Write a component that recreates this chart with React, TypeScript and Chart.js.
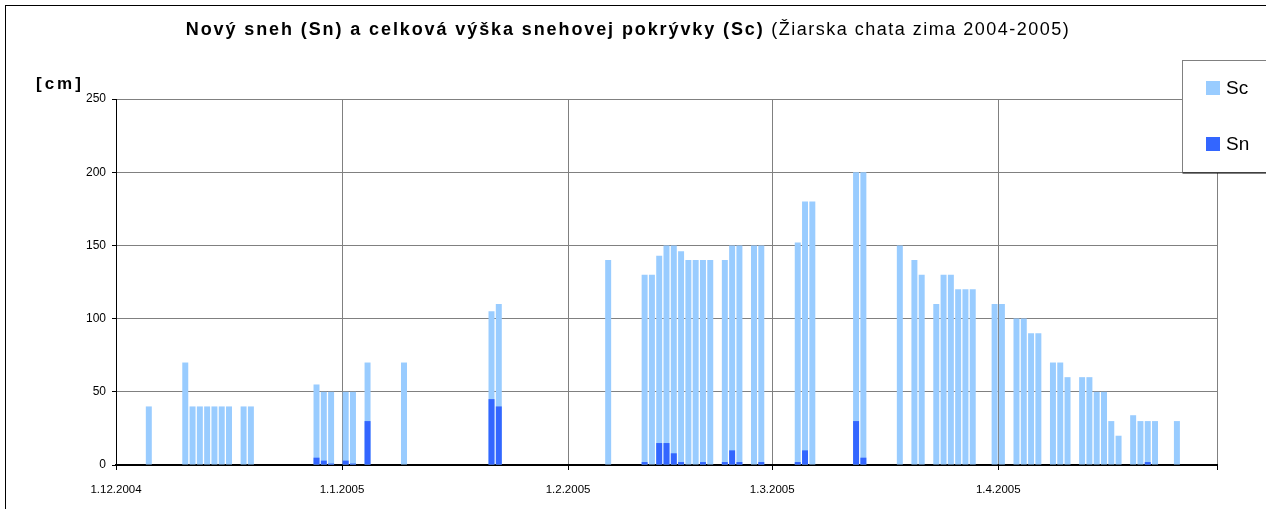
import React, { useEffect, useRef } from 'react';
import { Chart, registerables } from 'chart.js';

Chart.register(...registerables);

// ---- Data ----
const monthTickDates = ['2004-12-01', '2005-01-01', '2005-02-01', '2005-03-01', '2005-04-01', '2005-05-01'];
const monthTickLabels = ['1.12.2004', '1.1.2005', '1.2.2005', '1.3.2005', '1.4.2005', ''];

const dates = [
  '2004-12-05', '2004-12-10', '2004-12-11', '2004-12-12', '2004-12-13', '2004-12-14', '2004-12-15', '2004-12-16',
  '2004-12-18', '2004-12-19', '2004-12-28', '2004-12-29', '2004-12-30', '2005-01-01', '2005-01-02', '2005-01-04',
  '2005-01-09', '2005-01-21', '2005-01-22', '2005-02-06', '2005-02-11', '2005-02-12', '2005-02-13', '2005-02-14',
  '2005-02-15', '2005-02-16', '2005-02-17', '2005-02-18', '2005-02-19', '2005-02-20', '2005-02-22', '2005-02-23',
  '2005-02-24', '2005-02-26', '2005-02-27', '2005-03-04', '2005-03-05', '2005-03-06', '2005-03-12', '2005-03-13',
  '2005-03-18', '2005-03-20', '2005-03-21', '2005-03-23', '2005-03-24', '2005-03-25', '2005-03-26', '2005-03-27',
  '2005-03-28', '2005-03-31', '2005-04-01', '2005-04-03', '2005-04-04', '2005-04-05', '2005-04-06', '2005-04-08',
  '2005-04-09', '2005-04-10', '2005-04-12', '2005-04-13', '2005-04-14', '2005-04-15', '2005-04-16', '2005-04-17',
  '2005-04-19', '2005-04-20', '2005-04-21', '2005-04-22', '2005-04-25',
];

const scValues = [
  40, 70, 40, 40, 40, 40, 40, 40,
  40, 40, 55, 50, 50, 50, 50, 70,
  70, 105, 110, 140, 130, 130, 143, 150,
  150, 146, 140, 140, 140, 140, 140, 150,
  150, 150, 150, 152, 180, 180, 200, 200,
  150, 140, 130, 110, 130, 130, 120, 120,
  120, 110, 110, 100, 100, 90, 90, 70,
  70, 60, 60, 60, 50, 50, 30, 20,
  34, 30, 30, 30, 30,
];

const snValues = [
  0, 0, 0, 0, 0, 0, 0, 0,
  0, 0, 5, 3, 1, 3, 1, 30,
  0, 45, 40, 0, 2, 0, 15, 15,
  8, 2, 0, 0, 2, 0, 2, 10,
  2, 0, 2, 2, 10, 0, 30, 5,
  0, 0, 0, 0, 0, 0, 0, 0,
  0, 0, 0, 0, 0, 0, 0, 0,
  0, 0, 0, 0, 0, 0, 0, 0,
  0, 0, 2, 0, 0,
];

const titleBold = 'Nový sneh (Sn) a celková výška snehovej pokrývky (Sc)';
const titleNormal = ' (Žiarska chata zima 2004-2005)';
const unitLabel = '[cm]';

const SC_COLOR = '#99CCFF';
const SN_COLOR = '#3366FF';
const FONT = '"Liberation Sans", Arial, sans-serif';

const START = Date.UTC(2004, 11, 1);
function dayIndex(s: string): number {
  const [y, m, d] = s.split('-').map(Number);
  return Math.round((Date.UTC(y, m - 1, d) - START) / 86400000);
}

const decorPlugin = {
  id: 'decor',
  afterDraw(chart: any) {
    const ctx = chart.ctx as CanvasRenderingContext2D;
    ctx.save();
    // outer frame
    ctx.strokeStyle = '#000';
    ctx.lineWidth = 1;
    ctx.strokeRect(5.5, 5.5, 1400, 700);

    // title (bold + normal parts)
    ctx.fillStyle = '#000';
    ctx.textBaseline = 'middle';
    ctx.textAlign = 'left';
    const c: any = ctx;
    const bFont = `bold 18px ${FONT}`;
    const nFont = `18px ${FONT}`;
    const bSp = '1.9px';
    const nSp = '1.5px';
    ctx.font = bFont;
    c.letterSpacing = bSp;
    const wb = ctx.measureText(titleBold).width;
    ctx.font = nFont;
    c.letterSpacing = nSp;
    const wn = ctx.measureText(titleNormal).width;
    const x0 = 628 - (wb + wn) / 2;
    ctx.font = bFont;
    c.letterSpacing = bSp;
    ctx.fillText(titleBold, x0, 30);
    ctx.font = nFont;
    c.letterSpacing = nSp;
    ctx.fillText(titleNormal, x0 + wb, 30);

    // unit label
    ctx.font = `bold 17px ${FONT}`;
    c.letterSpacing = '3px';
    ctx.fillText(unitLabel, 36, 84);
    c.letterSpacing = '0px';

    // legend box
    const lx = 1182.5, ly = 60.5, lw = 200, lh = 112;
    ctx.fillStyle = '#fff';
    ctx.fillRect(lx, ly, lw, lh);
    ctx.strokeStyle = '#808080';
    ctx.lineWidth = 1;
    ctx.strokeRect(lx, ly, lw, lh);
    ctx.strokeStyle = '#000';
    ctx.beginPath();
    ctx.moveTo(lx, ly + lh + 0.5);
    ctx.lineTo(lx + lw, ly + lh + 0.5);
    ctx.stroke();

    const items = chart.data.datasets.map((ds: any) => ({ label: ds.label, color: ds.backgroundColor }));
    const rowY = [88, 144];
    ctx.font = `19px ${FONT}`;
    ctx.textBaseline = 'middle';
    items.forEach((it: any, i: number) => {
      ctx.fillStyle = it.color;
      ctx.fillRect(1206, rowY[i] - 7, 14, 14);
      ctx.fillStyle = '#000';
      ctx.fillText(it.label, 1226, rowY[i] + 1);
    });
    ctx.restore();
  },
};

export default function App() {
  const canvasRef = useRef<HTMLCanvasElement | null>(null);

  useEffect(() => {
    document.body.style.margin = '0';
    const canvas = canvasRef.current;
    if (!canvas) return;
    const tickVals = monthTickDates.map(dayIndex);
    const chart = new Chart(canvas, {
      type: 'bar',
      data: {
        datasets: [
          {
            label: 'Sc',
            data: dates.map((d, i) => ({ x: dayIndex(d) + 0.5, y: scValues[i] })),
            backgroundColor: SC_COLOR,
            grouped: false,
            order: 1,
            barPercentage: 0.82,
            categoryPercentage: 1,
          } as any,
          {
            label: 'Sn',
            data: dates.map((d, i) => ({ x: dayIndex(d) + 0.5, y: snValues[i] })),
            backgroundColor: SN_COLOR,
            grouped: false,
            order: 0,
            barPercentage: 0.82,
            categoryPercentage: 1,
          } as any,
        ],
      },
      options: {
        animation: false,
        responsive: false,
        devicePixelRatio: 1,
        layout: { padding: { top: 99, left: 56, right: 49, bottom: 14 } },
        plugins: {
          legend: { display: false },
          title: { display: false },
          tooltip: { enabled: false },
        },
        scales: {
          x: {
            type: 'linear',
            min: tickVals[0],
            max: tickVals[tickVals.length - 1],
            offset: false,
            grid: {
              offset: false,
              color: '#808080',
              tickColor: '#000',
              tickLength: 5,
              lineWidth: 1,
            },
            border: { color: '#000', width: 2 },
            ticks: {
              autoSkip: false,
              maxRotation: 0,
              padding: 13,
              color: '#000',
              font: { family: FONT, size: 11.5 },
              callback: (v: any) => {
                const k = tickVals.indexOf(Math.round(Number(v)));
                return k >= 0 ? monthTickLabels[k] : '';
              },
            },
            afterBuildTicks: (scale: any) => {
              scale.ticks = tickVals.map((v) => ({ value: v }));
            },
            afterFit: (scale: any) => {
              scale.height = 30;
            },
          } as any,
          y: {
            min: 0,
            max: 250,
            grid: {
              color: '#808080',
              tickColor: '#000',
              tickLength: 4,
              lineWidth: 1,
            },
            border: { color: '#000', width: 1 },
            ticks: {
              stepSize: 50,
              padding: 6,
              color: '#000',
              font: { family: FONT, size: 12 },
            },
            afterFit: (scale: any) => {
              scale.width = 60;
            },
          },
        },
      },
      plugins: [decorPlugin],
    });
    return () => chart.destroy();
  }, []);

  return (
    <div style={{ width: 1266, height: 509, background: '#fff' }}>
      <canvas ref={canvasRef} width={1266} height={509} style={{ display: 'block' }} />
    </div>
  );
}
